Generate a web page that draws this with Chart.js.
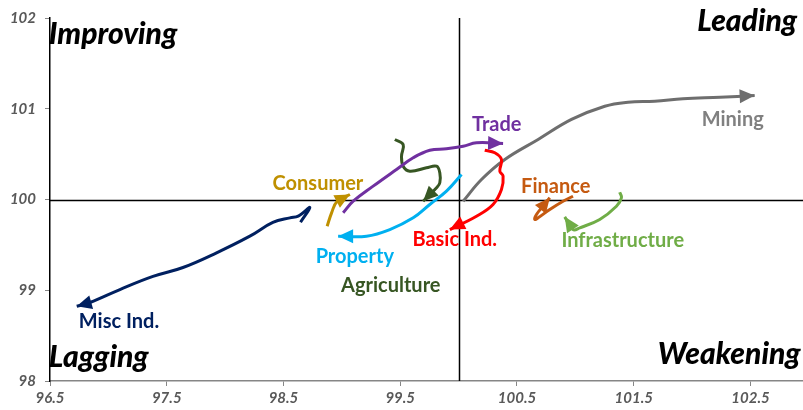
<!DOCTYPE html>
<html>
<head>
<meta charset="utf-8">
<script src="https://cdn.jsdelivr.net/npm/chart.js@4"></script>
<style>
  html, body { margin: 0; padding: 0; background: #fff; overflow: hidden; }
  #wrap { width: 803px; height: 410px; position: relative; }
</style>
</head>
<body>
<div id="wrap"><canvas id="rrg"></canvas></div>
<script>
//  sector trails, [relative strength, momentum], oldest point first
var miscInd = [[98.646,99.75],[98.726,99.912],[98.626,99.816],[98.555,99.798],[98.409,99.747],[98.212,99.596],[97.927,99.413],[97.639,99.251],[97.382,99.152],[97.099,99.008],[96.842,98.865],[96.729,98.824]];
var consumer = [[98.874,99.706],[98.912,99.853],[98.96,99.981],[99.069,100.055]];
var trade = [[99.011,99.853],[99.097,99.981],[99.268,100.147],[99.468,100.331],[99.611,100.46],[99.753,100.543],[99.896,100.559],[100.039,100.587],[100.153,100.625],[100.381,100.617]];
var agriculture = [[99.454,100.661],[99.525,100.606],[99.511,100.477],[99.525,100.367],[99.582,100.312],[99.725,100.349],[99.811,100.367],[99.839,100.294],[99.839,100.184],[99.811,100.129],[99.696,99.981]];
var property = [[100.025,100.275],[99.896,100.092],[99.753,99.945],[99.611,99.798],[99.411,99.669],[99.211,99.596],[98.968,99.596]];
var basicInd = [[100.224,100.543],[100.31,100.515],[100.367,100.441],[100.353,100.312],[100.381,100.257],[100.367,100.11],[100.295,99.945],[100.153,99.816],[99.925,99.669]];
var mining = [[100.039,99.981],[100.196,100.22],[100.396,100.441],[100.681,100.661],[100.967,100.882],[101.252,101.028],[101.451,101.072],[101.68,101.083],[101.922,101.11],[102.239,101.127],[102.536,101.146]];
var finance = [[100.98,100.036],[100.895,99.981],[100.781,99.89],[100.681,99.798],[100.652,99.78],[100.667,99.835],[100.723,99.926],[100.781,100.019]];
var infrastructure = [[101.38,100.08],[101.395,100.019],[101.352,99.926],[101.209,99.78],[101.038,99.688],[100.98,99.669],[100.909,99.809]];

var sectorNames = ["Misc Ind.", "Consumer", "Trade", "Agriculture", "Property", "Basic Ind.", "Mining", "Finance", "Infrastructure"];
var sectorTrails = [miscInd, consumer, trade, agriculture, property, basicInd, mining, finance, infrastructure];
var sectorColors = ["#002060", "#BF9000", "#7030A0", "#375623", "#00B0F0", "#FF0000", "#6E6E6E", "#C55A11", "#70AD47"];
var labelColors = ["#002060", "#BF9000", "#7030A0", "#375623", "#00B0F0", "#FF0000", "#808080", "#C55A11", "#70AD47"];
// where each sector name sits (data coords, centre of text)
var labelSpots = [[97.091,98.656],[98.795,100.176],[100.327,100.826],[99.419,99.052],[99.111,99.372],[99.967,99.559],[102.348,100.882],[100.832,100.143],[101.406,99.548]];

var xTicks = [96.5, 97.5, 98.5, 99.5, 100.5, 101.5, 102.5];
var yTicks = [98, 99, 100, 101, 102];
var quadrants = [
	{ text: "Improving", x: 96.49, y: 101.82, align: "left" },
	{ text: "Leading", x: 102.9, y: 101.96, align: "right" },
	{ text: "Lagging", x: 96.49, y: 98.26, align: "left" },
	{ text: "Weakening", x: 102.93, y: 98.29, align: "right" }
];

var tickFont = { family: "Lato, sans-serif", size: 15, weight: "bold", style: "italic" };

// centre cross + quadrant names + sector names
var decorPlugin = {
	id: "decor",
	beforeDatasetsDraw: function (chart) {
		var ctx = chart.ctx, xs = chart.scales.x, ys = chart.scales.y, a = chart.chartArea;
		ctx.save();
		ctx.strokeStyle = "#000";
		ctx.lineWidth = 1.5;
		ctx.beginPath();
		var px = Math.round(xs.getPixelForValue(100)) + 0.5;
		var py = Math.round(ys.getPixelForValue(100)) + 0.5;
		ctx.moveTo(px, a.top); ctx.lineTo(px, a.bottom);
		ctx.moveTo(a.left, py); ctx.lineTo(a.right, py);
		ctx.stroke();
		ctx.restore();
	},
	afterDatasetsDraw: function (chart) {
		var ctx = chart.ctx, xs = chart.scales.x, ys = chart.scales.y;
		ctx.save();
		ctx.textBaseline = "middle";
		ctx.fillStyle = "#000";
		ctx.font = "italic 900 30px Lato, sans-serif";
		quadrants.forEach(function (q) {
			ctx.textAlign = q.align;
			ctx.fillText(q.text, xs.getPixelForValue(q.x), ys.getPixelForValue(q.y));
		});
		ctx.font = "bold 20px Lato, sans-serif";
		ctx.textAlign = "center";
		sectorNames.forEach(function (name, i) {
			ctx.fillStyle = labelColors[i];
			ctx.fillText(name, xs.getPixelForValue(labelSpots[i][0]), ys.getPixelForValue(labelSpots[i][1]));
		});
		ctx.restore();
	}
};

// arrow head at the newest point of every trail
var arrowPlugin = {
	id: "arrows",
	afterDatasetsDraw: function (chart) {
		var ctx = chart.ctx;
		chart.data.datasets.forEach(function (ds, i) {
			var pts = chart.getDatasetMeta(i).data;
			var end = pts[pts.length - 1], prev = pts[pts.length - 2];
			var bx = end.cp1x, by = end.cp1y;
			if (bx == null || (Math.abs(bx - end.x) < 0.5 && Math.abs(by - end.y) < 0.5)) { bx = prev.x; by = prev.y; }
			var ang = Math.atan2(end.y - by, end.x - bx);
			var len = 15, half = 7;
			ctx.save();
			ctx.translate(end.x, end.y);
			ctx.rotate(ang);
			ctx.fillStyle = ds.borderColor;
			ctx.beginPath();
			ctx.moveTo(0, 0);
			ctx.lineTo(-len, -half);
			ctx.lineTo(-len, half);
			ctx.closePath();
			ctx.fill();
			ctx.restore();
		});
	}
};

var datasets = sectorTrails.map(function (trail, i) {
	return {
		label: sectorNames[i],
		data: trail.map(function (p) { return { x: p[0], y: p[1] }; }),
		borderColor: sectorColors[i],
		backgroundColor: sectorColors[i],
		borderWidth: 3,
		showLine: true,
		pointRadius: 0,
		tension: 0.4,
		fill: false
	};
});

var theGraph = new Chart(document.getElementById("rrg"), {
	type: "scatter",
	data: { datasets: datasets },
	options: {
		responsive: true,
		maintainAspectRatio: false,
		animation: false,
		layout: { padding: { top: 18, right: 0, left: 0, bottom: 0 } },
		plugins: { legend: { display: false }, tooltip: { enabled: false } },
		scales: {
			x: {
				type: "linear",
				min: 96.5,
				max: 102.95,
				afterBuildTicks: function (axis) { axis.ticks = xTicks.map(function (v) { return { value: v }; }); },
				afterFit: function (axis) { axis.height = 29; },
				grid: { drawOnChartArea: false, tickLength: 5, color: "#868686", lineWidth: 1 },
				border: { color: "#868686", width: 1.5 },
				ticks: { color: "#595959", font: tickFont, padding: 3, maxRotation: 0, autoSkip: false, callback: function (v) { return v.toFixed(1); } }
			},
			y: {
				type: "linear",
				min: 98,
				max: 102,
				afterBuildTicks: function (axis) { axis.ticks = yTicks.map(function (v) { return { value: v }; }); },
				afterFit: function (axis) { axis.width = 50; },
				grid: { drawOnChartArea: false, tickLength: 5, color: "#868686", lineWidth: 1 },
				border: { color: "#000", width: 1.5 },
				ticks: { color: "#595959", font: tickFont, padding: 9, callback: function (v) { return v; } }
			}
		}
	},
	plugins: [decorPlugin, arrowPlugin]
});
</script>
</body>
</html>
